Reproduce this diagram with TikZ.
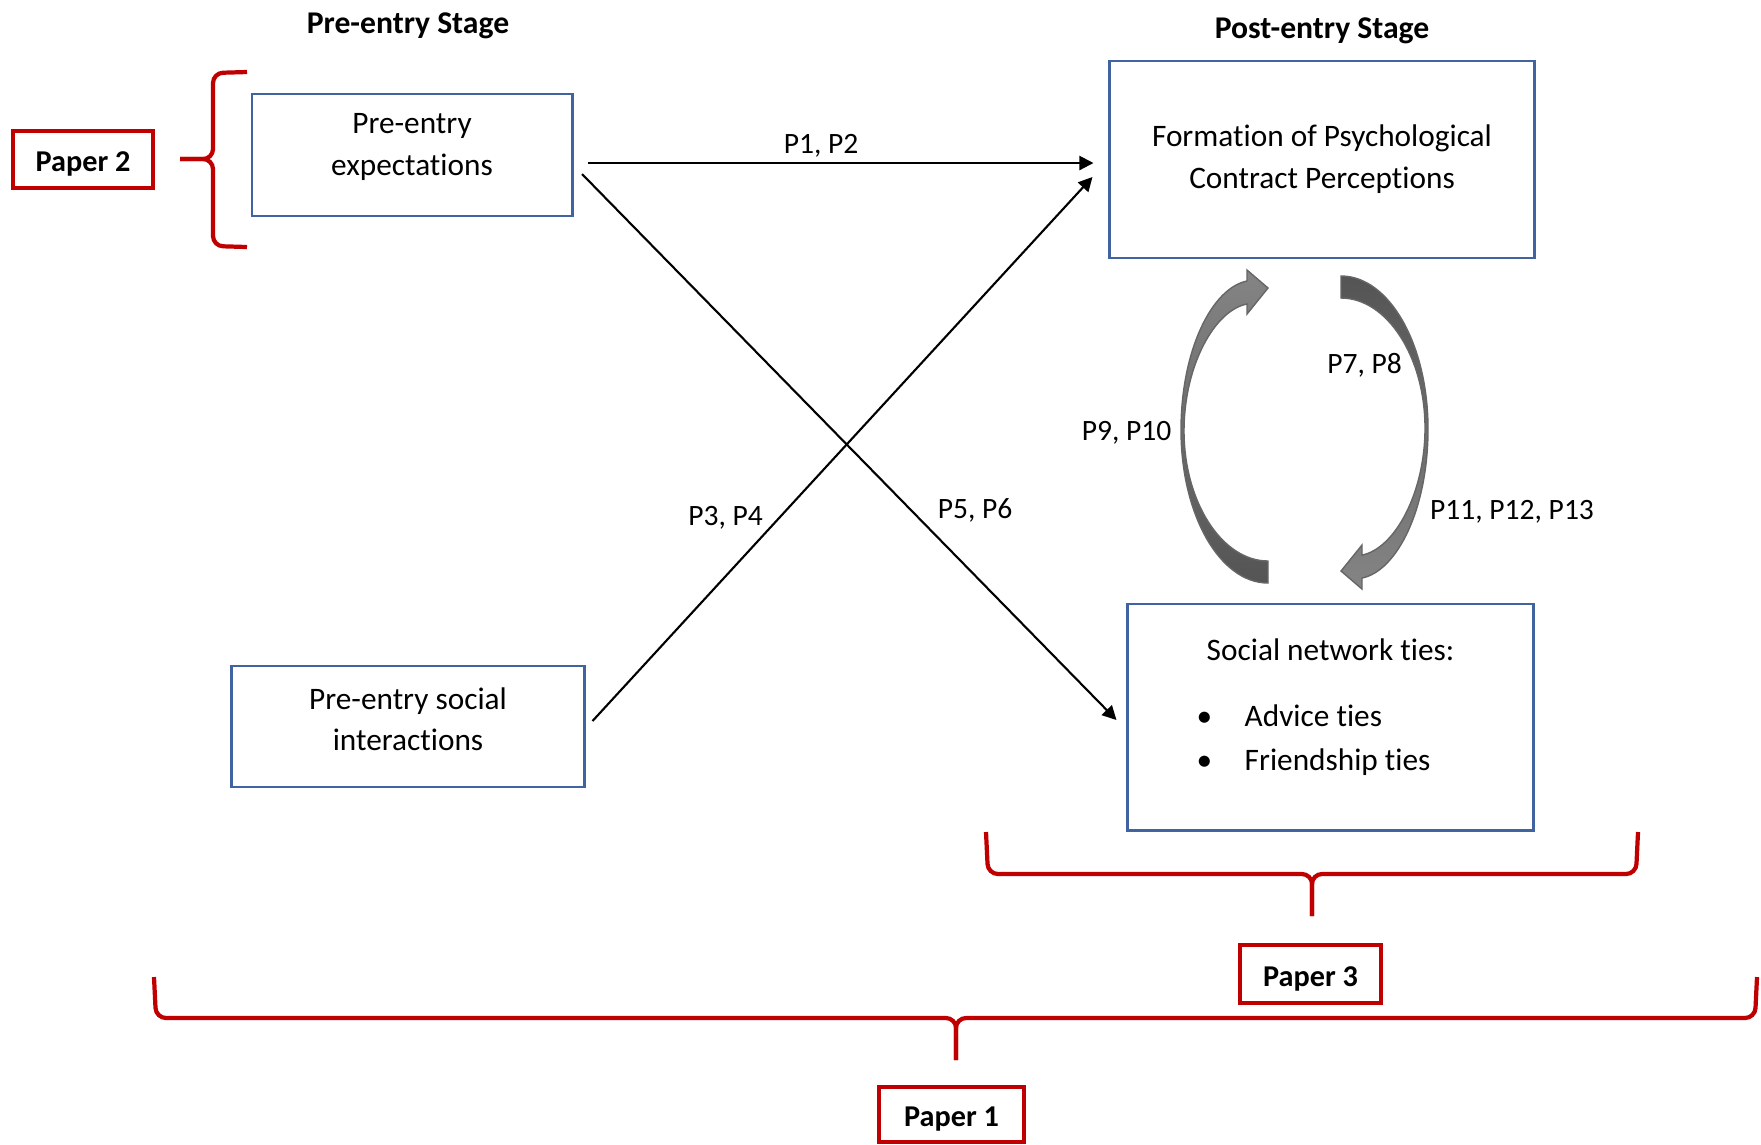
\documentclass[tikz,border=0pt]{standalone}
\usepackage{fontspec}
\setmainfont{Carlito}[Ligatures=NoCommon]
\usetikzlibrary{arrows.meta,positioning,calc}
\definecolor{boxblue}{RGB}{65,100,160}
\definecolor{paperred}{RGB}{192,0,0}

\begin{document}
\begin{tikzpicture}[x=0.01cm,y=-0.01cm,
      font=\fontsize{8.9}{11.9}\selectfont,
      stagebox/.style={draw=boxblue,line width=0.8pt,align=center,inner sep=0pt},
      paperbox/.style={draw=paperred,line width=1.3pt,inner sep=0pt,
                       font=\fontsize{8.6}{10}\selectfont\bfseries,
                       text height=7pt,text depth=0pt,
                       minimum width=1.4cm,minimum height=0.57cm},
      stagetitle/.style={font=\fontsize{9}{11}\selectfont\bfseries},
      plab/.style={font=\fontsize{8.4}{10}\selectfont,inner sep=1pt},
      arr/.style={-{Triangle[length=1.4mm,width=1.4mm]},line width=0.6pt},
      brace/.style={draw=paperred,line width=1.2pt,rounded corners=0.1cm},
      loop/.style={draw=black!60,line width=0.4pt}]
    \useasboundingbox (0,0) rectangle (1761,1144);
    % stage titles
    \node[stagetitle] (pretitle) at (408,25.5) {Pre-entry Stage};
    \node[stagetitle] (posttitle) at (1322,30.5) {Post-entry Stage};
    % boxes
    \node[stagebox,minimum width=3.2cm,minimum height=1.22cm] (exp) at (412,155)
      {Pre-entry\\expectations\rule[-5.8pt]{0pt}{0pt}};
    \node[stagebox,minimum width=3.52cm,minimum height=1.21cm] (soc) at (408,726.5)
      {Pre-entry social\\interactions\rule[-4.2pt]{0pt}{0pt}};
    \node[stagebox,minimum width=4.24cm,minimum height=1.97cm] (form) at (1322,159.5)
      {Formation of Psychological\\Contract Perceptions};
    \node[stagebox,minimum width=4.05cm,minimum height=2.26cm] (ties) at (1330.5,717)
      {\begin{tabular}{@{}l@{}}
         \multicolumn{1}{@{}c@{}}{Social network ties:}\\[6.8pt]
         \makebox[3.8mm][l]{\kern-2.9pt\textbullet}Advice ties\\[0.6pt]
         \makebox[3.8mm][l]{\kern-2.9pt\textbullet}Friendship ties\rule[-9pt]{0pt}{0pt}
       \end{tabular}};
    % propositions between the stages
    \draw[arr] ($(exp.east)+(14,8)$)--($(form.west)+(-15,3.5)$);
    \draw[arr] ($(exp.east)+(8.5,19)$)--($(ties.west)+(-10,3)$);
    \draw[arr] ($(soc.east)+(7,-5.5)$)--($(form.west)+(-16,17.5)$);
    \node[plab] (p12) at (821,146) {P1, P2};
    \node[plab] (p34) at (725.5,518) {P3, P4};
    \node[plab] (p56) at (975,510) {P5, P6};
    % feedback loop
    \draw[loop,top color=black!48,bottom color=black!67]
      (1268,583) .. controls (1220,583) and (1181,515) .. (1181,430)
      .. controls (1181,350) and (1212,288) .. (1247,281)
      -- (1247,270) -- (1268,288) -- (1247,314) -- (1247,304)
      .. controls (1215,310) and (1184,365) .. (1184,431)
      .. controls (1184,502) and (1222,561) .. (1268,561) -- cycle;
    \draw[loop,top color=black!67,bottom color=black!48]
      (1341,276) .. controls (1389,276) and (1428,344) .. (1428,429)
      .. controls (1428,509) and (1397,571) .. (1362,578)
      -- (1362,589) -- (1341,571) -- (1362,545) -- (1362,555)
      .. controls (1394,549) and (1425,494) .. (1425,428)
      .. controls (1425,357) and (1387,298) .. (1341,298) -- cycle;
    \node[plab] (p78) at (1364.5,365) {P7, P8};
    \node[plab] (p910) at (1126.5,433) {P9, P10};
    \node[plab] (p1113) at (1512,512) {P11, P12, P13};
    % papers
    \node[paperbox] (paper2) at (83,159.5) {Paper 2};
    \node[paperbox,minimum width=1.41cm,minimum height=0.58cm] (paper3) at (1310.5,974) {Paper 3};
    \node[paperbox,minimum width=1.45cm,minimum height=0.55cm] (paper1) at (951.5,1114.5) {Paper 1};
    \draw[brace] (247,72)--(213,73)--(213,159)--(180,159);
    \draw[brace] (247,247)--(213,246)--(213,159)--(180,159);
    \draw[brace] (986,832)--(988,874)--(1312,874)--(1312,916);
    \draw[brace] (1638,832)--(1636,874)--(1312,874)--(1312,916);
    \draw[brace] (154,977)--(156,1018)--(956,1018)--(956,1060);
    \draw[brace] (1757,977)--(1755,1018)--(956,1018)--(956,1060);
  \end{tikzpicture}
\end{document}
